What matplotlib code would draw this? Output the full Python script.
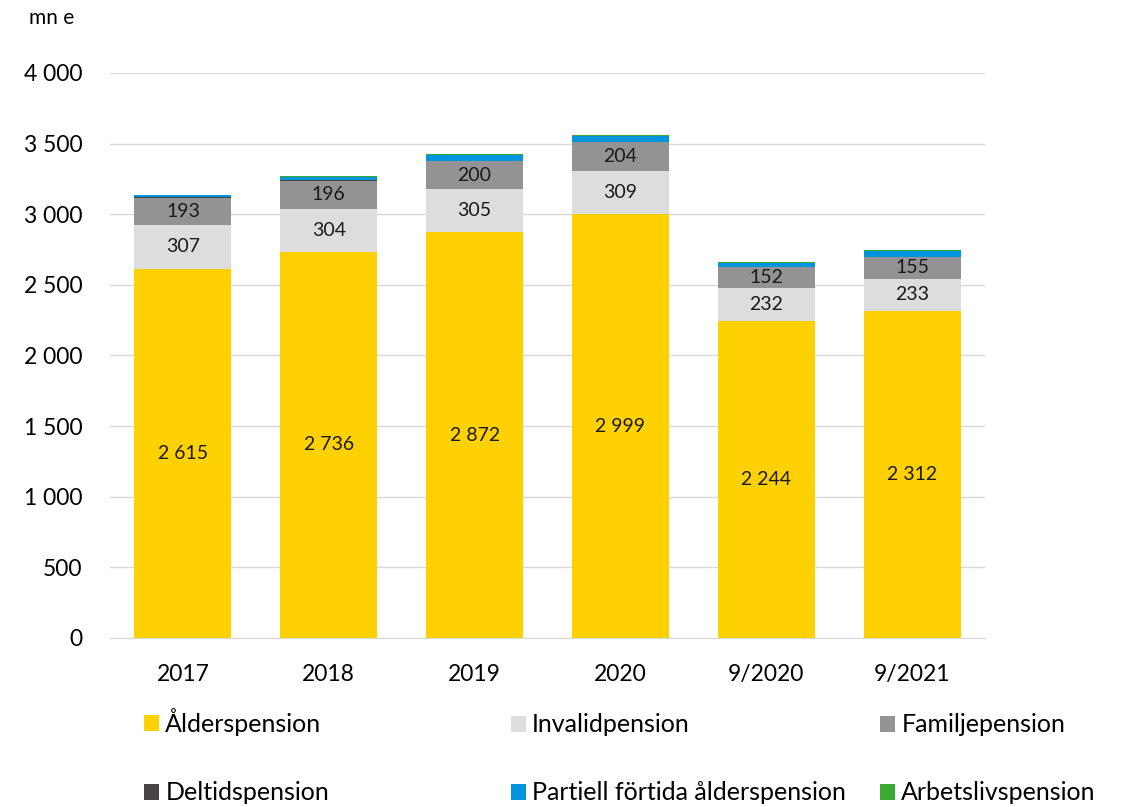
import numpy as np
import matplotlib
matplotlib.use('Agg')
import matplotlib.pyplot as plt
from matplotlib.ticker import FuncFormatter

plt.rcParams['font.family'] = ['Lato', 'DejaVu Sans']

# data (mn e)
years = ['2017', '2018', '2019', '2020', '9/2020', '9/2021']
alders = [2615, 2736, 2872, 2999, 2244, 2312]
invalid = [307, 304, 305, 309, 232, 233]
familj = [193, 196, 200, 204, 152, 155]
deltid = [8, 3, 1, 0, 0, 0]
partiell = [12, 28, 40, 45, 28, 38]
arbetsliv = [0, 4, 6, 7, 6, 7]

series = [
    ('Ålderspension', alders, '#FFD100'),
    ('Invalidpension', invalid, '#DDDDDD'),
    ('Familjepension', familj, '#939393'),
    ('Deltidspension', deltid, '#484343'),
    ('Partiell förtida ålderspension', partiell, '#0094DE'),
    ('Arbetslivspension', arbetsliv, '#3AAA35'),
]

fig = plt.figure(figsize=(11.22, 8.07), dpi=100)
ax = fig.add_axes([110/1122, 1 - 638/807, 875/1122, 565/807])

x = np.arange(len(years))
bottom = np.zeros(len(years))
handles = []
for i, (name, vals, col) in enumerate(series):
    vals = np.array(vals, dtype=float)
    b = ax.bar(x, vals, 0.665, bottom=bottom, color=col, label=name, zorder=3)
    handles.append(b)
    if i < 3:
        for xi, v, bt in zip(x, vals, bottom):
            ax.text(xi, bt + v / 2, f"{int(v):,}".replace(',', ' '),
                    ha='center', va='center', fontsize=14, color='#1a1a1a', zorder=4)
    bottom += vals

ax.set_xlim(-0.5, len(years) - 0.5)
ax.set_ylim(0, 4000)
ax.set_yticks(np.arange(0, 4001, 500))
ax.yaxis.set_major_formatter(FuncFormatter(lambda v, p: f"{int(v):,}".replace(',', ' ')))
ax.set_xticks(x)
ax.set_xticklabels(years)
ax.grid(axis='y', color='#D9D9D9', linewidth=1, zorder=0)
for s in ['top', 'right', 'left']:
    ax.spines[s].set_visible(False)
ax.spines['bottom'].set_color('#D9D9D9')
ax.tick_params(axis='both', length=0, labelsize=16.5, colors='black')
ax.tick_params(axis='y', pad=20)
ax.tick_params(axis='x', pad=19)

fig.text(29/1122, 1 - 18/807, 'mn e', fontsize=15, va='center', ha='left')

# legend: 3 columns x 2 rows, one entry each so the columns line up like the original
col_x = [144, 511, 880]
row_y = [725, 793]
for i, h in enumerate(handles):
    r, c = divmod(i, 3)
    y = row_y[r] - (3 if i == 0 else 0)   # the Å ring makes that box taller
    fig.legend(handles=[h], loc='center left',
               bbox_to_anchor=(col_x[c]/1122, 1 - y/807),
               frameon=False, fontsize=18, handlelength=0.6, handleheight=0.6,
               handletextpad=0.25, borderpad=0, borderaxespad=0)

fig.savefig('out.png', dpi=100)
